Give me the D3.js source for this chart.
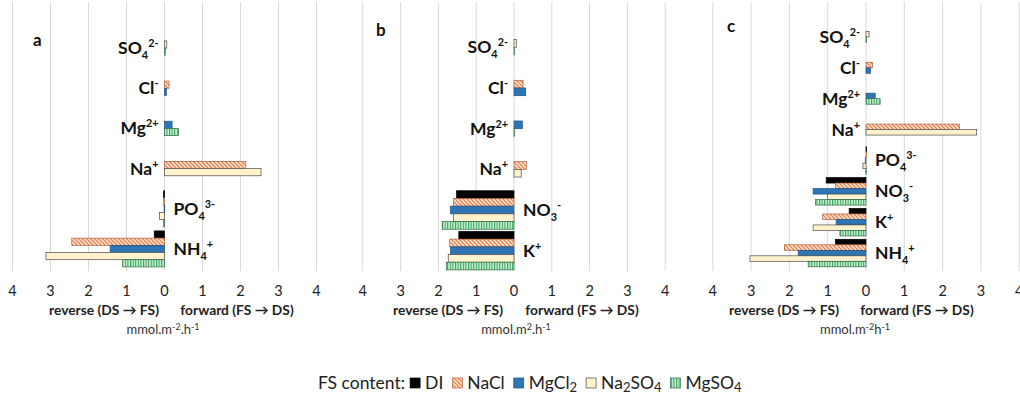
<!DOCTYPE html>
<html>
<head>
<meta charset="utf-8">
<script src="https://cdn.jsdelivr.net/npm/d3@7/dist/d3.min.js"></script>
<style>
  body { margin: 0; background: #fff; }
  svg { display: block; font-family: Lato, "Open Sans", sans-serif; }
</style>
</head>
<body>
<div id="chart"></div>
<script>
// series (feed solutions), top to bottom inside each ion group
const series = ["DI", "NaCl", "MgCl2", "Na2SO4", "MgSO4"];
const ticks = [-4, -3, -2, -1, 0, 1, 2, 3, 4];

// panel a
const ionsA = ["SO4", "Cl", "Mg", "Na", "PO4", "NH4"];
const diA     = [null, null, null, null, -0.03, -0.27];
const naclA   = [null, 0.12, null, 2.14, -0.03, -2.44];
const mgcl2A  = [null, 0.05, 0.20, null, -0.01, -1.43];
const na2so4A = [0.06, null, null, 2.54, -0.13, -3.12];
const mgso4A  = [0.02, null, 0.37, null, -0.03, -1.10];

// panel b
const ionsB = ["SO4", "Cl", "Mg", "Na", "NO3", "K"];
const diB     = [null, null, null, null, -1.52, -1.46];
const naclB   = [null, 0.24, null, 0.33, -1.60, -1.70];
const mgcl2B  = [null, 0.31, 0.22, null, -1.68, -1.68];
const na2so4B = [0.06, null, null, 0.19, -1.60, -1.74];
const mgso4B  = [0.01, null, 0.01, null, -1.90, -1.79];

// panel c
const ionsC = ["SO4", "Cl", "Mg", "Na", "PO4", "NO3", "K", "NH4"];
const diC     = [null, null, null, null, 0.01, -1.04, -0.44, -0.80];
const naclC   = [null, 0.17, null, 2.44, 0.01, -0.80, -1.13, -2.13];
const mgcl2C  = [null, 0.12, 0.24, null, -0.02, -1.38, -0.78, -1.77];
const na2so4C = [0.08, null, null, 2.89, -0.08, -1.01, -1.38, -3.03];
const mgso4C  = [0.01, null, 0.37, null, -0.01, -1.32, -0.68, -1.51];

// ion label pieces: [base, subscript, superscript]
const ionText = {
  SO4: ["SO", "4", "2-"], Cl: ["Cl", "", "-"], Mg: ["Mg", "", "2+"],
  Na: ["Na", "", "+"], PO4: ["PO", "4", "3-"], NO3: ["NO", "3", "-"],
  K: ["K", "", "+"], NH4: ["NH", "4", "+"]
};

const W = 1020, H = 398;

const panels = [
  { letter: "a", ions: ionsA, values: [diA, naclA, mgcl2A, na2so4A, mgso4A],
    xr: [12.5, 316.5], yr: [28, 269], barH: 7.2, lx: 33, ly: 46,
    rev: 104, fwd: 237, unitX: 163, unit: ["mmol.m", "-2", ".h", "-1"] },
  { letter: "b", ions: ionsB, values: [diB, naclB, mgcl2B, na2so4B, mgso4B],
    xr: [362.8, 665.2], yr: [27, 271], barH: 7.7, lx: 376, ly: 36,
    rev: 448, fwd: 582, unitX: 516, unit: ["mmol.m", "2", ".h", "-1"] },
  { letter: "c", ions: ionsC, values: [diC, naclC, mgcl2C, na2so4C, mgso4C],
    xr: [712.8, 1019.2], yr: [21.5, 268.5], barH: 5.5, lx: 727, ly: 32,
    rev: 784, fwd: 917, unitX: 855, unit: ["mmol.m", "-2", "h", "-1"] }
];

const svg = d3.select("#chart").append("svg")
  .attr("width", W).attr("height", H);

// fills
const defs = svg.append("defs");
const hatch = defs.append("pattern").attr("id", "pNaCl")
  .attr("patternUnits", "userSpaceOnUse").attr("width", 4).attr("height", 4);
hatch.append("rect").attr("width", 4).attr("height", 4).attr("fill", "#fdeee3");
hatch.append("path").attr("d", "M-1,3 l2,2 M0,0 l4,4 M3,-1 l2,2")
  .attr("stroke", "#e9824c").attr("stroke-width", 1.4);

const vstripe = defs.append("pattern").attr("id", "pMgSO4")
  .attr("patternUnits", "userSpaceOnUse").attr("width", 2.6).attr("height", 4);
vstripe.append("rect").attr("width", 2.6).attr("height", 4).attr("fill", "#d4f3dc");
vstripe.append("rect").attr("width", 1.1).attr("height", 4).attr("fill", "#2fa356");

const fills = {
  DI: "#000000", NaCl: "url(#pNaCl)", MgCl2: "#2e75b6",
  Na2SO4: "#fff2cc", MgSO4: "url(#pMgSO4)"
};
const strokes = {
  DI: "#000000", NaCl: "#b0603a", MgCl2: "#24517e",
  Na2SO4: "#4a4a4a", MgSO4: "#2f6b45"
};

function ionLabel(g, ion, x, y, anchor, size) {
  const [base, sub, sup] = ionText[ion];
  const t = g.append("text").attr("x", x).attr("y", y)
    .attr("text-anchor", anchor).attr("font-weight", "bold")
    .attr("font-size", size).attr("fill", "#111");
  t.append("tspan").text(base);
  let shift = 0;
  if (sub) {
    t.append("tspan").attr("dy", 5).attr("font-size", size * 0.62).text(sub);
    shift = 5;
  }
  if (sup) {
    t.append("tspan").attr("dy", -shift - 7).attr("font-size", size * 0.62).text(sup);
  }
}

panels.forEach(p => {
  const g = svg.append("g");
  const x = d3.scaleLinear().domain([-4, 4]).range(p.xr);
  const y = d3.scaleBand().domain(p.ions).range(p.yr);

  // vertical gridlines
  g.selectAll("line.grid").data(ticks).enter().append("line")
    .attr("x1", d => x(d)).attr("x2", d => x(d))
    .attr("y1", 2).attr("y2", 271)
    .attr("stroke", "#d9d9d9").attr("stroke-width", 1);

  // tick labels (absolute values)
  g.selectAll("text.tick").data(ticks).enter().append("text")
    .attr("x", d => x(d)).attr("y", 296)
    .attr("text-anchor", "middle").attr("font-size", 14.5).attr("fill", "#222")
    .text(d => Math.abs(d));

  // bars: only the measured series of each ion, packed around the group centre
  p.ions.forEach((ion, i) => {
    const rows = series
      .map((s, k) => ({ s, v: p.values[k][i] }))
      .filter(d => d.v !== null);
    const cy = y(ion) + y.bandwidth() / 2;
    const top = cy - rows.length * p.barH / 2;
    g.selectAll(null).data(rows).enter().append("rect")
      .attr("x", d => x(Math.min(0, d.v)))
      .attr("y", (d, k) => top + k * p.barH)
      .attr("width", d => Math.max(0.6, Math.abs(x(d.v) - x(0))))
      .attr("height", p.barH)
      .attr("fill", d => fills[d.s])
      .attr("stroke", d => strokes[d.s]).attr("stroke-width", 0.7);

    const sum = d3.sum(rows, d => d.v);
    if (sum < 0) {
      ionLabel(g, ion, x(0) + 9, cy + 6, "start", 17.5);
    } else {
      ionLabel(g, ion, x(0) - 6, cy + 6, "end", 17.5);
    }
  });

  // panel letter
  g.append("text").attr("x", p.lx).attr("y", p.ly)
    .attr("font-weight", "bold").attr("font-size", 17).attr("fill", "#111")
    .text(p.letter);

  // direction captions
  g.append("text").attr("x", p.rev).attr("y", 315)
    .attr("text-anchor", "middle").attr("font-weight", "bold")
    .attr("font-size", 13.8).attr("fill", "#222").text("reverse (DS \u2192 FS)");
  g.append("text").attr("x", p.fwd).attr("y", 315)
    .attr("text-anchor", "middle").attr("font-weight", "bold")
    .attr("font-size", 13.8).attr("fill", "#222").text("forward (FS \u2192 DS)");

  // unit
  const u = g.append("text").attr("x", p.unitX).attr("y", 334)
    .attr("text-anchor", "middle").attr("font-size", 13).attr("fill", "#333");
  u.append("tspan").text(p.unit[0]);
  u.append("tspan").attr("dy", -4).attr("font-size", 9).text(p.unit[1]);
  u.append("tspan").attr("dy", 4).text(p.unit[2]);
  u.append("tspan").attr("dy", -4).attr("font-size", 9).text(p.unit[3]);
});

// legend
const legendNames = {
  DI: [["DI", 0]], NaCl: [["NaCl", 0]],
  MgCl2: [["MgCl", 0], ["2", 1]],
  Na2SO4: [["Na", 0], ["2", 1], ["SO", 0], ["4", 1]],
  MgSO4: [["MgSO", 0], ["4", 1]]
};
const leg = svg.append("g").attr("font-size", 17.5).attr("fill", "#222");
const lead = leg.append("text").attr("x", 318).attr("y", 389).text("FS content:");
let lx = 318 + lead.node().getComputedTextLength() + 5;
series.forEach(s => {
  leg.append("rect").attr("x", lx).attr("y", 378).attr("width", 10).attr("height", 10)
    .attr("fill", fills[s]).attr("stroke", strokes[s]).attr("stroke-width", 0.7);
  const t = leg.append("text").attr("x", lx + 15).attr("y", 389);
  let low = false;
  legendNames[s].forEach(([txt, isSub]) => {
    const ts = t.append("tspan").text(txt);
    if (isSub && !low) { ts.attr("dy", 3).attr("font-size", 13); low = true; }
    else if (!isSub && low) { ts.attr("dy", -3); low = false; }
    else if (isSub) ts.attr("font-size", 13);
  });
  lx += 15 + t.node().getComputedTextLength() + 9;
});
</script>
</body>
</html>
